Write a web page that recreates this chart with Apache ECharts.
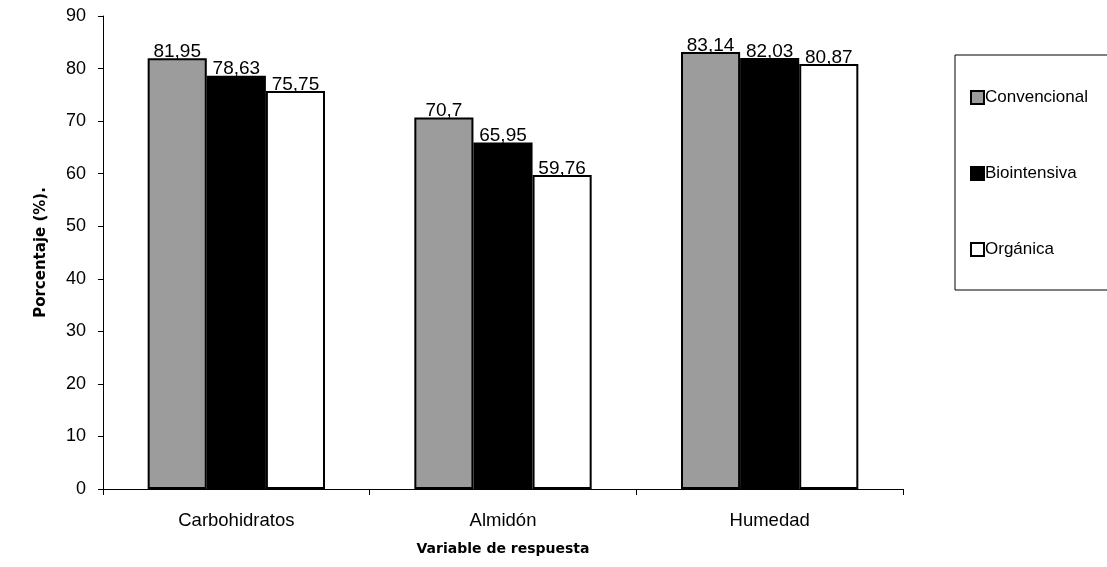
<!DOCTYPE html>
<html><head><meta charset="utf-8">
<script src="https://cdn.jsdelivr.net/npm/echarts@6/dist/echarts.min.js"></script>
<style>html,body{margin:0;padding:0;background:#fff}#c{width:1107px;height:567px}</style>
</head><body><div id="c"></div>
<script>
const categories = ['Carbohidratos', 'Almidón', 'Humedad'];
const convencional = [81.95, 70.7, 83.14];
const biointensiva = [78.63, 65.95, 82.03];
const organica = [75.75, 59.76, 80.87];
const seriesNames = ['Convencional', 'Biointensiva', 'Orgánica'];
const yTicks = [0, 10, 20, 30, 40, 50, 60, 70, 80, 90];

const font = 'Liberation Sans, Arial, sans-serif';
const boldFont = 'DejaVu Sans, Verdana, sans-serif';
const fmt = p => String(p.value).replace('.', ',');
function mk(name, data, color) {
  return {
    name, type: 'bar', data, barGap: '0%', barCategoryGap: '33.5%',
    itemStyle: { color, borderColor: '#000', borderWidth: 2 },
    label: { show: true, position: 'top', distance: -3, formatter: fmt, color: '#000', fontFamily: font, fontSize: 19 }
  };
}
const chart = echarts.init(document.getElementById('c'));
chart.setOption({
  animation: false,
  grid: { left: 103, right: 204, top: 16, bottom: 78 },
  xAxis: {
    type: 'category', data: categories,
    name: 'Variable de respuesta', nameLocation: 'middle', nameGap: 53,
    nameTextStyle: { fontFamily: boldFont, fontSize: 14, fontWeight: 'bold', color: '#000' },
    axisLine: { lineStyle: { color: '#000', width: 1 } },
    axisTick: { show: true, length: 6, lineStyle: { color: '#000' } },
    axisLabel: { fontFamily: font, fontSize: 18.5, color: '#000', margin: 22 }
  },
  yAxis: {
    type: 'value', min: yTicks[0], max: yTicks[yTicks.length - 1], interval: 10,
    name: 'Porcentaje (%).', nameLocation: 'middle', nameGap: 54, nameRotate: 90,
    nameTextStyle: { fontFamily: boldFont, fontSize: 15, fontWeight: 'bold', color: '#000' },
    axisLine: { show: true, lineStyle: { color: '#000', width: 1 } },
    axisTick: { show: true, length: 5, lineStyle: { color: '#000' } },
    axisLabel: { fontFamily: font, fontSize: 18, color: '#000', margin: 17 },
    splitLine: { show: false }
  },
  legend: {
    orient: 'vertical', left: 965, top: 84, itemGap: 59,
    itemWidth: 13, itemHeight: 13, icon: 'rect',
    data: seriesNames,
    textStyle: { fontFamily: font, fontSize: 17, color: '#000', padding: [0, 0, 0, -4] }
  },
  graphic: [{
    type: 'rect', shape: { x: 955, y: 55, width: 170, height: 235 },
    style: { fill: 'none', stroke: '#000', lineWidth: 1 }
  }],
  series: [
    mk(seriesNames[0], convencional, '#9c9c9c'),
    mk(seriesNames[1], biointensiva, '#000000'),
    mk(seriesNames[2], organica, '#ffffff')
  ]
});
</script></body></html>
